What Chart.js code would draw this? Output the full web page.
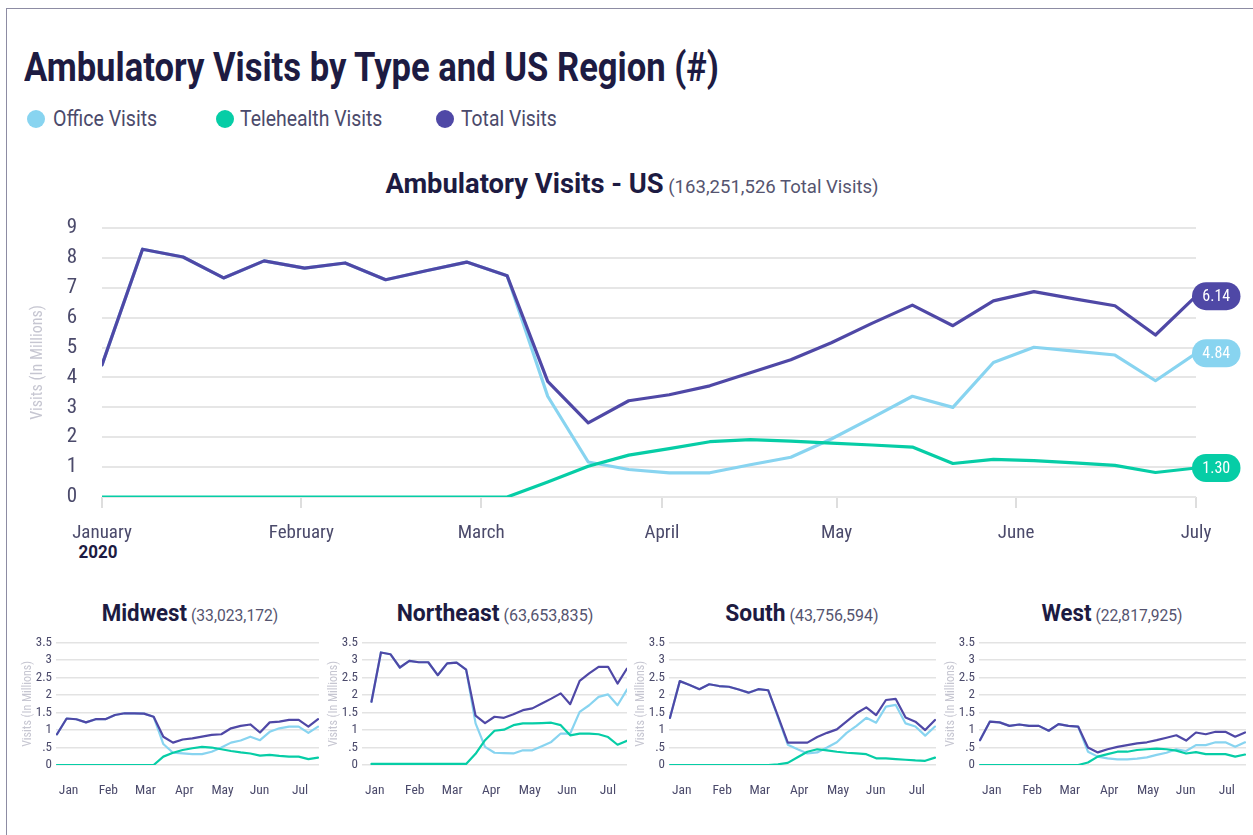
<!DOCTYPE html>
<html><head><meta charset="utf-8">
<script src="https://cdn.jsdelivr.net/npm/chart.js@4/dist/chart.umd.min.js"></script>
<style>
html,body{margin:0;padding:0;background:#fff;}
body{width:1253px;height:835px;position:relative;overflow:hidden;font-family:Roboto,sans-serif;}
#frame{position:absolute;left:6px;top:8px;width:1400px;height:1000px;border-top:1px solid #8d8ca3;border-left:1px solid #8d8ca3;}
.t{position:absolute;white-space:nowrap;line-height:1;font-family:Roboto,sans-serif;}
canvas{position:absolute;}
.dot{position:absolute;width:18px;height:18px;border-radius:50%;}
</style></head><body>
<div id="frame"></div>
<div id="texts"></div>
<div id="charts"></div>
<script>
// ---------------- DATA ----------------
const weekStarts = ['2019-12-29','2020-01-05','2020-01-12','2020-01-19','2020-01-26','2020-02-02','2020-02-09','2020-02-16','2020-02-23','2020-03-01','2020-03-08','2020-03-15','2020-03-22','2020-03-29','2020-04-05','2020-04-12','2020-04-19','2020-04-26','2020-05-03','2020-05-10','2020-05-17','2020-05-24','2020-05-31','2020-06-07','2020-06-14','2020-06-21','2020-06-28','2020-07-05'];

const seriesNames = ['Office Visits','Telehealth Visits','Total Visits'];

// US (millions)
const usOffice = [4.42,8.29,8.03,7.33,7.90,7.66,7.83,7.27,7.57,7.86,7.40,3.37,1.17,0.92,0.81,0.81,1.08,1.33,1.94,2.65,3.37,3.00,4.50,5.01,4.88,4.75,3.89,4.81];
const usTele   = [0,0,0,0,0,0,0,0,0,0,0,0.50,1.03,1.40,1.62,1.85,1.92,1.87,1.80,1.74,1.67,1.12,1.26,1.22,1.14,1.06,0.82,0.97];
const usTotal  = [4.42,8.29,8.03,7.33,7.90,7.66,7.83,7.27,7.57,7.86,7.40,3.87,2.48,3.22,3.42,3.72,4.16,4.59,5.16,5.81,6.42,5.73,6.56,6.87,6.63,6.40,5.42,6.72];
const usBadges = ['4.84','1.30','6.14'];

// Midwest
const mwOffice = [0.88,1.33,1.31,1.22,1.31,1.31,1.43,1.48,1.48,1.47,1.38,0.60,0.35,0.33,0.31,0.31,0.38,0.50,0.64,0.70,0.81,0.71,0.95,1.05,1.10,1.10,0.92,1.10];
const mwTele   = [0,0,0,0,0,0,0,0,0,0,0,0.24,0.35,0.43,0.48,0.52,0.50,0.45,0.40,0.36,0.33,0.27,0.29,0.26,0.24,0.24,0.17,0.21];
const mwTotal  = [0.88,1.33,1.31,1.22,1.31,1.31,1.43,1.48,1.48,1.47,1.38,0.81,0.64,0.73,0.76,0.81,0.86,0.88,1.05,1.12,1.16,0.93,1.22,1.24,1.29,1.29,1.10,1.31];
// Northeast
const neOffice = [1.81,3.22,3.17,2.79,2.98,2.94,2.94,2.57,2.91,2.93,2.73,1.19,0.52,0.35,0.34,0.33,0.42,0.42,0.54,0.66,0.90,0.90,1.52,1.71,1.95,2.02,1.71,2.16];
const neTele   = [0.03,0.03,0.03,0.03,0.03,0.03,0.03,0.03,0.03,0.03,0.03,0.32,0.71,0.98,1.01,1.14,1.19,1.19,1.20,1.21,1.14,0.85,0.90,0.90,0.88,0.80,0.58,0.69];
const neTotal  = [1.81,3.22,3.17,2.79,2.98,2.94,2.94,2.57,2.91,2.93,2.73,1.41,1.20,1.38,1.35,1.45,1.57,1.62,1.76,1.90,2.05,1.74,2.41,2.62,2.81,2.81,2.33,2.76];
// South
const soOffice = [1.35,2.40,2.29,2.17,2.31,2.26,2.24,2.16,2.07,2.17,2.14,1.36,0.58,0.45,0.33,0.36,0.50,0.65,0.92,1.12,1.35,1.21,1.67,1.72,1.19,1.10,0.84,1.10];
const soTele   = [0,0,0,0,0,0,0,0,0,0,0,0.02,0.06,0.22,0.38,0.45,0.42,0.38,0.35,0.33,0.31,0.19,0.19,0.17,0.15,0.13,0.12,0.21];
const soTotal  = [1.35,2.40,2.29,2.17,2.31,2.26,2.24,2.16,2.07,2.17,2.14,1.40,0.64,0.64,0.64,0.80,0.92,1.02,1.25,1.48,1.65,1.43,1.86,1.89,1.36,1.24,1.00,1.29];
// West
const weOffice = [0.71,1.24,1.22,1.12,1.16,1.12,1.12,0.98,1.17,1.12,1.10,0.38,0.24,0.19,0.16,0.16,0.18,0.22,0.29,0.35,0.45,0.40,0.57,0.57,0.65,0.65,0.52,0.65];
const weTele   = [0,0,0,0,0,0,0,0,0,0,0,0.07,0.24,0.31,0.38,0.38,0.43,0.45,0.47,0.45,0.41,0.33,0.37,0.31,0.31,0.31,0.24,0.30];
const weTotal  = [0.71,1.24,1.22,1.12,1.16,1.12,1.12,0.98,1.17,1.12,1.10,0.50,0.36,0.45,0.52,0.57,0.62,0.65,0.71,0.78,0.85,0.70,0.93,0.88,0.95,0.95,0.81,0.93];

const regionNames  = ['Midwest','Northeast','South','West'];
const regionTotals = ['(33,023,172)','(63,653,835)','(43,756,594)','(22,817,925)'];

// tick labels
const mainTickPos    = [0,4.92,9.36,13.82,18.13,22.56,27];
const mainTickLabels = ['January','February','March','April','May','June','July'];
const mainYTicks     = [0,1,2,3,4,5,6,7,8,9];
const smallTickFrac  = [0.048,0.199,0.340,0.4875,0.633,0.774,0.928];
const smallTickLabels= ['Jan','Feb','Mar','Apr','May','Jun','Jul'];
const smallYTicks    = [0,0.5,1,1.5,2,2.5,3,3.5];

// ---------------- STYLE ----------------
const COL = {office:'#88d4f0', tele:'#06cda6', total:'#4f48a6', title:'#1d1b42', tick:'#4b4a6b', axisTitle:'#c6c6d1', grid:'#e6e6e6'};

function hasFont(name){
  const c=document.createElement('canvas').getContext('2d');
  c.font='40px monospace'; const a=c.measureText('abcdefghijklmnopQRST').width;
  c.font='40px "'+name+'", monospace'; const b=c.measureText('abcdefghijklmnopQRST').width;
  return Math.abs(a-b)>0.5;
}
const cond = ['Roboto Condensed','Liberation Sans Narrow','DejaVu Sans Condensed'].find(hasFont);
const FAM = (cond?('"'+cond+'", '):'')+'Roboto, sans-serif';

// ---------------- HTML TEXT ----------------
const texts = document.getElementById('texts');
function addText(html, o){
  const d=document.createElement('div'); d.className='t'; d.innerHTML=html;
  d.style.fontSize=o.size+'px'; d.style.fontWeight=o.weight||400; d.style.color=o.color;
  d.style.top=(o.baseline-0.8418*o.size)+'px';
  texts.appendChild(d);
  const w=d.getBoundingClientRect().width;
  const s=o.width? o.width/w : 1;
  if(o.center!==undefined){
    d.style.left=o.center+'px'; d.style.transformOrigin='50% 50%';
    d.style.transform='translateX(-50%) scaleX('+s+')';
  } else {
    d.style.left=o.left+'px'; d.style.transformOrigin='0 50%';
    d.style.transform='scaleX('+s+')';
  }
  return d;
}
addText('Ambulatory Visits by Type and US Region (#)',{left:23.5,baseline:81.7,size:40,weight:700,color:COL.title,width:695});
const legendCols=[COL.office,COL.tele,COL.total];
const legendDot=[35.6,225,444.7], legendTextX=[52.8,240.3,461], legendW=[104.2,142.4,95.8];
seriesNames.forEach((n,i)=>{
  const dot=document.createElement('div'); dot.className='dot'; dot.style.background=legendCols[i];
  dot.style.left=(legendDot[i]-9)+'px'; dot.style.top=(118.5-9)+'px'; texts.appendChild(dot);
  addText(n,{left:legendTextX[i],baseline:126.5,size:22,color:'#4b4a6b',width:legendW[i]});
});
addText('<span style="font-weight:700;font-size:28px;color:'+COL.title+'">Ambulatory Visits - US</span><span style="font-size:19px;color:#55546f"> (163,251,526 Total Visits)</span>',
  {center:631.5,baseline:193.3,size:28,color:COL.title,width:493});
addText('2020',{center:98,baseline:558.3,size:19,weight:700,color:COL.title,width:39});

// ---------------- CHARTS ----------------
const charts=document.getElementById('charts');
function mkCanvas(left,top,w,h){
  const c=document.createElement('canvas'); c.width=w; c.height=h;
  c.style.left=left+'px'; c.style.top=top+'px'; c.style.width=w+'px'; c.style.height=h+'px';
  charts.appendChild(c); return c;
}
function pts(arr){ return weekStarts.map((d,i)=>({x:i,y:arr[i]})); }
function ds(label,arr,color,bw,order){
  return {label,data:pts(arr),borderColor:color,backgroundColor:color,borderWidth:bw,pointRadius:0,tension:0,fill:false,borderJoinStyle:'round',borderCapStyle:'round',order};
}

const badgePlugin={
  id:'badges',
  afterDatasetsDraw(chart){
    const ctx=chart.ctx;
    chart.data.datasets.forEach((d,di)=>{
      const meta=chart.getDatasetMeta(di);
      const p=meta.data[meta.data.length-1];
      const w=48.5,h=28,x=p.x-4,y=p.y-h/2;
      ctx.save();
      ctx.fillStyle=d.borderColor; ctx.beginPath(); ctx.roundRect(x,y,w,h,h/2); ctx.fill();
      ctx.fillStyle='#ffffff'; ctx.font='16px '+FAM; ctx.textAlign='center'; ctx.textBaseline='middle';
      ctx.fillText(usBadges[di],x+w/2,p.y+1);
      ctx.restore();
    });
  }
};

// main chart: chart area 102..1196 x 228..497
const mainTop=200, mainH=380;
const mainCanvas=mkCanvas(0,mainTop,1253,mainH);
new Chart(mainCanvas,{
  type:'line',
  data:{datasets:[ds(seriesNames[0],usOffice,COL.office,3.2,2),ds(seriesNames[1],usTele,COL.tele,3.2,1),ds(seriesNames[2],usTotal,COL.total,3.2,0)]},
  options:{
    responsive:false,animation:false,
    layout:{padding:{left:0,right:57,top:28,bottom:0}},
    plugins:{legend:{display:false},tooltip:{enabled:false}},
    scales:{
      x:{type:'linear',min:0,max:27,
        afterFit(s){s.height=mainH-28-269;},
        afterBuildTicks(s){s.ticks=mainTickPos.map(v=>({value:v}));},
        ticks:{autoSkip:false,maxRotation:0,color:COL.tick,font:{family:FAM,size:19},padding:14,
          callback:(v,i)=>mainTickLabels[i]},
        grid:{drawOnChartArea:false,drawTicks:true,tickLength:11,color:'#dedede',lineWidth:2},
        border:{display:false}},
      y:{min:0,max:9,
        afterFit(s){s.width=102;},
        afterBuildTicks(s){s.ticks=mainYTicks.map(v=>({value:v}));},
        ticks:{autoSkip:false,color:COL.tick,font:{family:FAM,size:21},padding:0},
        grid:{color:COL.grid,lineWidth:2,drawTicks:true,tickLength:25,tickColor:'rgba(0,0,0,0)'},
        border:{display:false},
        title:{display:true,text:'Visits (In Millions)',color:COL.axisTitle,font:{family:FAM,size:16},padding:{top:28,bottom:0}}}
    }
  },
  plugins:[badgePlugin]
});

// small charts
const regionData=[[mwOffice,mwTele,mwTotal],[neOffice,neTele,neTotal],[soOffice,soTele,soTotal],[weOffice,weTele,weTotal]];
const smallLayout=[
  {left:55.7,right:318.7,min:-0.1,max:27.1,center:190,tw:176.6},
  {left:362.3,right:627.3,min:-1,max:27,center:495,tw:196.6},
  {left:669.0,right:936.0,min:-0.1,max:27.1,center:801.7,tw:153.3},
  {left:979.0,right:1246.0,min:-0.1,max:27.1,center:1112,tw:141}
];
const sTop=632, sH=180, sChartTop=642.7, sChartBottom=765, yAxisW=46;
regionData.forEach((rd,ri)=>{
  const L=smallLayout[ri];
  addText('<span style="font-weight:700;font-size:23.5px;color:'+COL.title+'">'+regionNames[ri]+'</span><span style="font-size:16.5px;color:#55546f"> '+regionTotals[ri]+'</span>',
    {center:L.center,baseline:621.7,size:23.5,color:COL.title,width:L.tw});
  const cl=L.left-yAxisW, cw=(L.right-L.left)+yAxisW+4;
  const cv=mkCanvas(cl,sTop,Math.round(cw),sH);
  new Chart(cv,{
    type:'line',
    data:{datasets:[ds(seriesNames[0],rd[0],COL.office,2.2,2),ds(seriesNames[1],rd[1],COL.tele,2.2,1),ds(seriesNames[2],rd[2],COL.total,2.2,0)]},
    options:{
      responsive:false,animation:false,
      layout:{padding:{left:0,right:Math.round(cw)-(L.right-cl),top:sChartTop-sTop,bottom:0}},
      plugins:{legend:{display:false},tooltip:{enabled:false}},
      scales:{
        x:{type:'linear',min:L.min,max:L.max,
          afterFit(s){s.height=sTop+sH-sChartBottom;},
          afterBuildTicks(s){s.ticks=smallTickFrac.map(f=>({value:L.min+f*(L.max-L.min)}));},
          ticks:{autoSkip:false,maxRotation:0,color:COL.tick,font:{family:FAM,size:13.5},padding:10,
            callback:(v,i)=>smallTickLabels[i]},
          grid:{display:false},border:{display:false}},
        y:{min:0,max:3.5,
          afterFit(s){s.width=yAxisW;},
          afterBuildTicks(s){s.ticks=smallYTicks.map(v=>({value:v}));},
          ticks:{autoSkip:false,color:COL.tick,font:{family:FAM,size:13},padding:0,
            callback:v=> v===0?'0':(v<1?String(v).replace(/^0/,''):String(v))},
          grid:{color:'#e3e3e3',lineWidth:1.5,drawTicks:true,tickLength:4,tickColor:'rgba(0,0,0,0)'},
          border:{display:false},
          title:{display:true,text:'Visits (In Millions)',color:COL.axisTitle,font:{family:FAM,size:12},padding:{top:11,bottom:0}}}
      }
    }
  });
});
</script>
</body></html>
